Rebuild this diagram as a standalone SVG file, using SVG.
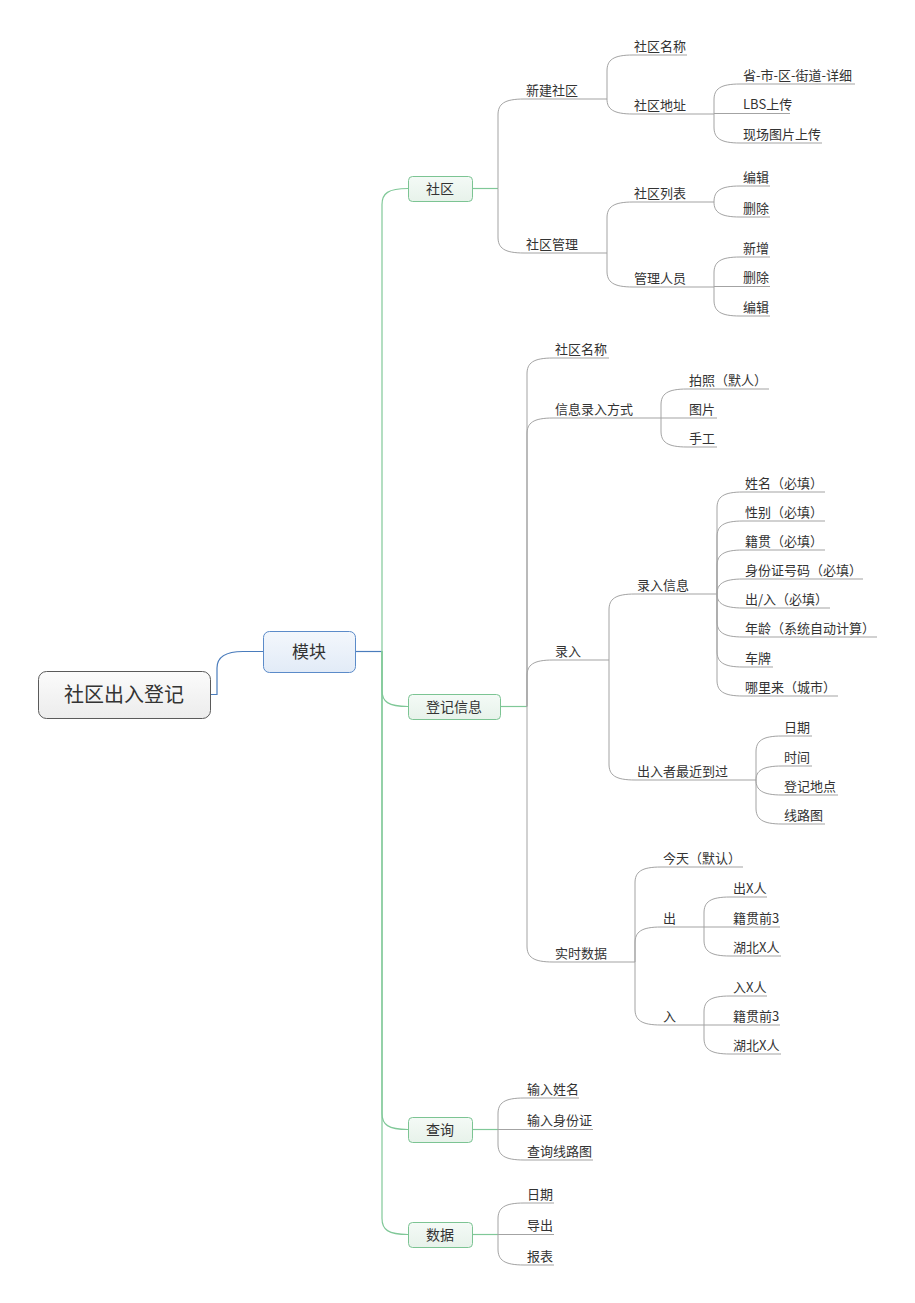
<svg xmlns="http://www.w3.org/2000/svg" width="915" height="1303" viewBox="0 0 915 1303">
<style>
text{font-family:"Noto Sans CJK SC","Liberation Sans",sans-serif;fill:#333}
.t{font-size:13px}
.l1{font-size:14px;text-anchor:middle}
.g{fill:none;stroke:#a3a3a3;stroke-width:1}
.gr{fill:none;stroke:#80c898;stroke-width:1.2}
.bl{fill:none;stroke:#4a7cbc;stroke-width:1.2}
.n1{fill:url(#gG);stroke:#7cc493;stroke-width:1}
</style>
<defs>
<linearGradient id="gR" x1="0" y1="0" x2="0" y2="1"><stop offset="0" stop-color="#fbfbfb"/><stop offset="1" stop-color="#ececec"/></linearGradient>
<linearGradient id="gB" x1="0" y1="0" x2="0" y2="1"><stop offset="0" stop-color="#f3f7fc"/><stop offset="1" stop-color="#e2ebf7"/></linearGradient>
<linearGradient id="gG" x1="0" y1="0" x2="0" y2="1"><stop offset="0" stop-color="#f4faf6"/><stop offset="1" stop-color="#e7f2ea"/></linearGradient>
</defs>
<rect width="915" height="1303" fill="#fff"/>
<g id="connectors">
<path class="bl" d="M210,694.5 H217 V668 C217,657 226,651.5 243,651.5 H263"/>
<path class="bl" d="M355,651.5 H382"/>
<path class="gr" d="M382,651 V204.5 C382,193.5 388,188.5 408,188.5"/>
<path class="gr" d="M382,651 V690.5 C382,701.5 388,706.5 408,706.5"/>
<path class="gr" d="M382,651 V1113.5 C382,1124.5 388,1129.5 408,1129.5"/>
<path class="gr" d="M382,651 V1218.5 C382,1229.5 388,1234.5 408,1234.5"/>
<path class="gr" d="M472,188.5 H498"/>
<path class="gr" d="M500,706.5 H527"/>
<path class="gr" d="M472,1129.5 H498"/>
<path class="gr" d="M472,1234.5 H498"/>
<path class="g" d="M498,188.5 V115 C498,104 504,99 524,99 H607"/>
<path class="g" d="M498,188.5 V237 C498,248 504,253 524,253 H607"/>
<path class="g" d="M607,99 V71 C607,60 613,55 633,55 H687"/>
<path class="g" d="M607,99 C607,109 613,114 633,114 H714"/>
<path class="g" d="M714,114 V100 C714,89 720,84 740,84 H855"/>
<path class="g" d="M714,113.5 H790"/>
<path class="g" d="M714,114 V127 C714,138 720,143 740,143 H822"/>
<path class="g" d="M607,253 V218 C607,207 613,202 633,202 H714"/>
<path class="g" d="M607,253 V271 C607,282 613,287 633,287 H714"/>
<path class="g" d="M714,202 C714,191 720,186 740,186 H770"/>
<path class="g" d="M714,202 C714,212 720,217 740,217 H770"/>
<path class="g" d="M714,287 V273 C714,262 720,257 740,257 H770"/>
<path class="g" d="M714,286.5 H770"/>
<path class="g" d="M714,287 V300 C714,311 720,316 740,316 H770"/>
<path class="g" d="M527,706.5 V374 C527,363 533,358 553,358 H609"/>
<path class="g" d="M527,706.5 V434 C527,423 533,418 553,418 H661"/>
<path class="g" d="M527,706.5 V676 C527,665 533,660 553,660 H609"/>
<path class="g" d="M527,706.5 V946 C527,957 533,962 553,962 H635"/>
<path class="g" d="M661,418 V405 C661,394 667,389 687,389 H769"/>
<path class="g" d="M661,418 H717"/>
<path class="g" d="M661,418 V431 C661,442 667,447 687,447 H717"/>
<path class="g" d="M609,660 V610 C609,599 615,594 635,594 H717"/>
<path class="g" d="M609,660 V764 C609,775 615,780 635,780 H756"/>
<path class="g" d="M717,594 V508 C717,497 723,492 743,492 H825"/>
<path class="g" d="M717,594 V537 C717,526 723,521 743,521 H825"/>
<path class="g" d="M717,594 V566 C717,555 723,550 743,550 H825"/>
<path class="g" d="M717,594 C717,584 723,579 743,579 H863"/>
<path class="g" d="M717,594 C717,603 723,608 743,608 H830"/>
<path class="g" d="M717,594 V621 C717,632 723,637 743,637 H877"/>
<path class="g" d="M717,594 V651 C717,662 723,667 743,667 H773"/>
<path class="g" d="M717,594 V680 C717,691 723,696 743,696 H838"/>
<path class="g" d="M756,780 V752 C756,741 762,736 782,736 H812"/>
<path class="g" d="M756,780 C756,771 762,766 782,766 H812"/>
<path class="g" d="M756,780 C756,790 762,795 782,795 H838"/>
<path class="g" d="M756,780 V808 C756,819 762,824 782,824 H825"/>
<path class="g" d="M635,962 V883 C635,872 641,867 661,867 H743"/>
<path class="g" d="M635,962 V943 C635,932 641,927 661,927 H704"/>
<path class="g" d="M635,962 V1009 C635,1020 641,1025 661,1025 H704"/>
<path class="g" d="M704,927 V913 C704,902 710,897 730,897 H767"/>
<path class="g" d="M704,927 H780"/>
<path class="g" d="M704,927 V940 C704,951 710,956 730,956 H781"/>
<path class="g" d="M704,1025 V1012 C704,1001 710,996 730,996 H767"/>
<path class="g" d="M704,1025 H780"/>
<path class="g" d="M704,1025 V1038 C704,1049 710,1054 730,1054 H781"/>
<path class="g" d="M498,1129.5 V1114 C498,1103 504,1098 524,1098 H579"/>
<path class="g" d="M498,1129.5 H593"/>
<path class="g" d="M498,1129.5 V1144 C498,1155 504,1160 524,1160 H593"/>
<path class="g" d="M498,1234.5 V1219 C498,1208 504,1203 524,1203 H554"/>
<path class="g" d="M498,1234.5 H554"/>
<path class="g" d="M498,1234.5 V1249 C498,1260 504,1265 524,1265 H554"/>
</g>
<g id="root"><rect x="38.5" y="671.5" width="172" height="47" rx="8" fill="url(#gR)" stroke="#5a5a5a"/><text x="124" y="702" font-size="20" text-anchor="middle">社区出入登记</text></g>
<g id="module"><rect x="263.5" y="631.5" width="92" height="41" rx="6" fill="url(#gB)" stroke="#5b8bc9"/><text x="309" y="657.5" font-size="17" text-anchor="middle">模块</text></g>
<g id="n-shequ"><rect class="n1" x="408.5" y="176.5" width="64" height="25" rx="4"/><text class="l1" x="440" y="194">社区</text></g>
<g id="n-dengji"><rect class="n1" x="408.5" y="694.5" width="92" height="25" rx="4"/><text class="l1" x="454" y="712">登记信息</text></g>
<g id="n-chaxun"><rect class="n1" x="408.5" y="1117.5" width="64" height="25" rx="4"/><text class="l1" x="440" y="1135">查询</text></g>
<g id="n-shuju"><rect class="n1" x="408.5" y="1222.5" width="64" height="25" rx="4"/><text class="l1" x="440" y="1240">数据</text></g>
<g id="n-xinjian"><text class="t" x="526" y="95">新建社区</text></g>
<g id="n-guanli"><text class="t" x="526" y="249">社区管理</text></g>
<g id="n-mingcheng1"><text class="t" x="634" y="51">社区名称</text></g>
<g id="n-dizhi"><text class="t" x="634" y="110">社区地址</text></g>
<g id="n-sheng"><text class="t" x="743" y="80">省-市-区-街道-详细</text></g>
<g id="n-lbs"><text class="t" x="743" y="109">LBS上传</text></g>
<g id="n-xianchang"><text class="t" x="743" y="139">现场图片上传</text></g>
<g id="n-liebiao"><text class="t" x="634" y="198">社区列表</text></g>
<g id="n-renyuan"><text class="t" x="634" y="283">管理人员</text></g>
<g id="n-bianji1"><text class="t" x="743" y="182">编辑</text></g>
<g id="n-shanchu1"><text class="t" x="743" y="213">删除</text></g>
<g id="n-xinzeng"><text class="t" x="743" y="253">新增</text></g>
<g id="n-shanchu2"><text class="t" x="743" y="282">删除</text></g>
<g id="n-bianji2"><text class="t" x="743" y="312">编辑</text></g>
<g id="n-mingcheng2"><text class="t" x="555" y="354">社区名称</text></g>
<g id="n-fangshi"><text class="t" x="555" y="414">信息录入方式</text></g>
<g id="n-luru"><text class="t" x="555" y="656">录入</text></g>
<g id="n-shishi"><text class="t" x="555" y="958">实时数据</text></g>
<g id="n-paizhao"><text class="t" x="689" y="385">拍照（默人）</text></g>
<g id="n-tupian"><text class="t" x="689" y="414">图片</text></g>
<g id="n-shougong"><text class="t" x="689" y="443">手工</text></g>
<g id="n-xinxi"><text class="t" x="637" y="590">录入信息</text></g>
<g id="n-zuijin"><text class="t" x="637" y="776">出入者最近到过</text></g>
<g id="n-xingming"><text class="t" x="745" y="488">姓名（必填）</text></g>
<g id="n-xingbie"><text class="t" x="745" y="517">性别（必填）</text></g>
<g id="n-jiguan"><text class="t" x="745" y="546">籍贯（必填）</text></g>
<g id="n-shenfen"><text class="t" x="745" y="575">身份证号码（必填）</text></g>
<g id="n-churu"><text class="t" x="745" y="604">出/入（必填）</text></g>
<g id="n-nianling"><text class="t" x="745" y="633">年龄（系统自动计算）</text></g>
<g id="n-chepai"><text class="t" x="745" y="663">车牌</text></g>
<g id="n-nali"><text class="t" x="745" y="692">哪里来（城市）</text></g>
<g id="n-riqi1"><text class="t" x="784" y="732">日期</text></g>
<g id="n-shijian"><text class="t" x="784" y="762">时间</text></g>
<g id="n-didian"><text class="t" x="784" y="791">登记地点</text></g>
<g id="n-luxian1"><text class="t" x="784" y="820">线路图</text></g>
<g id="n-jintian"><text class="t" x="663" y="863">今天（默认）</text></g>
<g id="n-chu"><text class="t" x="663" y="923">出</text></g>
<g id="n-ru"><text class="t" x="663" y="1021">入</text></g>
<g id="n-chux"><text class="t" x="733" y="893">出X人</text></g>
<g id="n-jg1"><text class="t" x="733" y="923">籍贯前3</text></g>
<g id="n-hb1"><text class="t" x="733" y="952">湖北X人</text></g>
<g id="n-rux"><text class="t" x="733" y="992">入X人</text></g>
<g id="n-jg2"><text class="t" x="733" y="1021">籍贯前3</text></g>
<g id="n-hb2"><text class="t" x="733" y="1050">湖北X人</text></g>
<g id="n-srxm"><text class="t" x="527" y="1094">输入姓名</text></g>
<g id="n-srsf"><text class="t" x="527" y="1125">输入身份证</text></g>
<g id="n-cxlx"><text class="t" x="527" y="1156">查询线路图</text></g>
<g id="n-riqi2"><text class="t" x="527" y="1199">日期</text></g>
<g id="n-daochu"><text class="t" x="527" y="1230">导出</text></g>
<g id="n-baobiao"><text class="t" x="527" y="1261">报表</text></g>
</svg>
